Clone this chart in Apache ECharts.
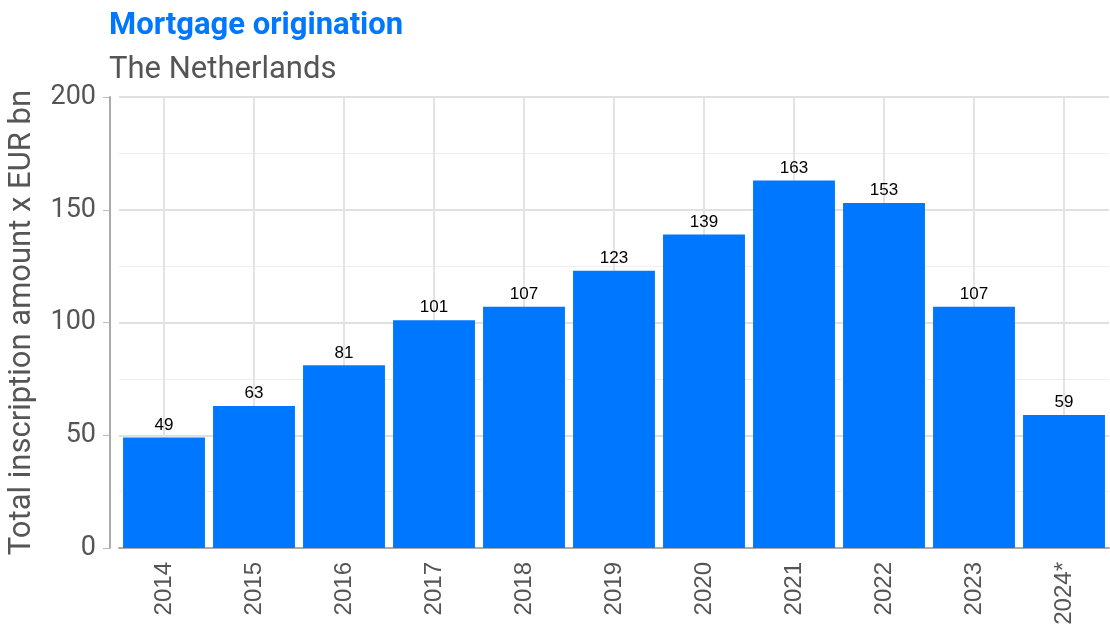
<!DOCTYPE html>
<html>
<head>
<meta charset="utf-8">
<script src="https://cdn.jsdelivr.net/npm/echarts@6/dist/echarts.min.js"></script>
<style>html,body{margin:0;padding:0;background:#fff}#c{width:1110px;height:636px}</style>
</head>
<body>
<div id="c"></div>
<script>
const categories = ['2014','2015','2016','2017','2018','2019','2020','2021','2022','2023','2024*'];
const values = [49, 63, 81, 101, 107, 123, 139, 163, 153, 107, 59];
const yTicks = [0, 50, 100, 150, 200];

const chart = echarts.init(document.getElementById('c'), null, {renderer: 'canvas'});
chart.setOption({
  animation: false,
  backgroundColor: '#ffffff',
  title: {
    text: 'Mortgage origination',
    subtext: 'The Netherlands',
    left: 104,
    top: 6,
    itemGap: 13,
    textStyle: {color: '#0077FF', fontSize: 31, fontWeight: 'bold', fontFamily: 'Roboto'},
    subtextStyle: {color: '#555555', fontSize: 31, fontFamily: 'Roboto'}
  },
  grid: {left: 119, right: 1, top: 97, bottom: 88, containLabel: false, outerBoundsMode: 'none'},
  xAxis: {
    type: 'category',
    data: categories,
    axisLine: {show: true, lineStyle: {color: '#aaaaaa', width: 2}},
    axisTick: {show: false},
    splitLine: {show: true, alignWithLabel: true, lineStyle: {color: '#e4e4e4', width: 2}},
    axisLabel: {rotate: 90, color: '#555555', fontSize: 24, fontFamily: 'Liberation Sans', margin: 14}
  },
  yAxis: {
    type: 'value',
    min: yTicks[0],
    max: yTicks[yTicks.length - 1],
    interval: 50,
    offset: 9,
    name: 'Total inscription amount x EUR bn',
    nameLocation: 'middle',
    nameGap: 72,
    nameTextStyle: {color: '#555555', fontSize: 31, fontFamily: 'Roboto'},
    axisLine: {show: true, lineStyle: {color: '#aaaaaa', width: 2}},
    axisTick: {show: true, length: 7, lineStyle: {color: '#bbbbbb'}},
    axisLabel: {color: '#555555', fontSize: 27, fontFamily: 'Roboto', margin: 14},
    splitLine: {show: true, lineStyle: {color: '#e0e0e0', width: 2}},
    minorTick: {show: false, splitNumber: 2},
    minorSplitLine: {show: true, lineStyle: {color: '#eeeeee', width: 1}}
  },
  series: [{
    type: 'bar',
    data: values,
    barCategoryGap: '9%',
    itemStyle: {color: '#0077FF'},
    label: {show: true, position: 'top', color: '#000000', fontSize: 17, fontFamily: 'Liberation Sans', distance: 4}
  }]
});
</script>
</body>
</html>
